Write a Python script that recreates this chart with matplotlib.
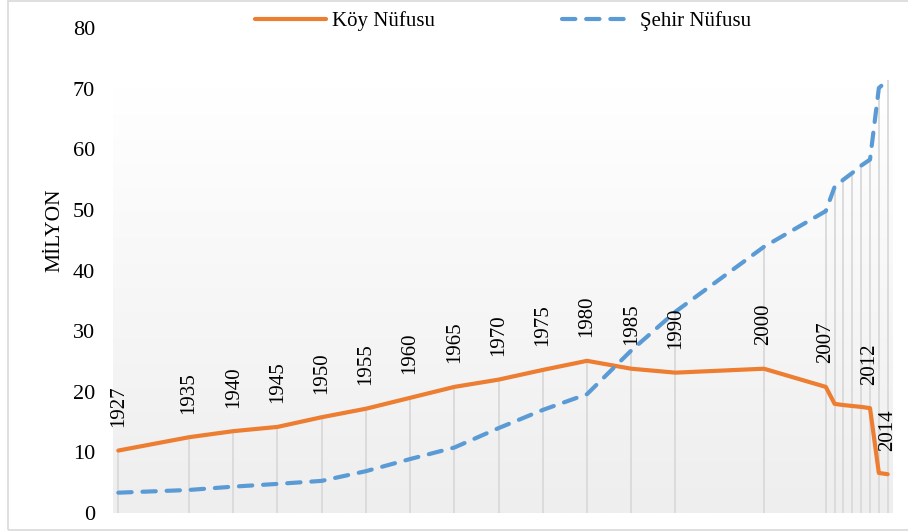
import numpy as np
import matplotlib
matplotlib.use("Agg")
import matplotlib.pyplot as plt
from matplotlib.colors import LinearSegmentedColormap
from matplotlib.lines import Line2D
from matplotlib.patches import Rectangle

plt.rcParams['font.family'] = ['Liberation Serif', 'DejaVu Serif']

# values (million people)
years = [1927, 1935, 1940, 1945, 1950, 1955, 1960, 1965, 1970, 1975, 1980,
         1985, 1990, 2000, 2007, 2008, 2009, 2010, 2011, 2012, 2013, 2014]
koy = [10.3, 12.5, 13.5, 14.2, 15.8, 17.2, 19.0, 20.8, 22.0, 23.6, 25.1,
       23.8, 23.15, 23.8, 20.8, 18.0, 17.8, 17.65, 17.5, 17.3, 6.6, 6.4]
sehir = [3.35, 3.8, 4.35, 4.8, 5.3, 6.9, 8.9, 10.8, 14.0, 17.0, 19.6,
         26.8, 33.2, 43.9, 49.8, 53.8, 55.0, 56.1, 57.3, 58.3, 70.1, 71.4]
label_years = [1927, 1935, 1940, 1945, 1950, 1955, 1960, 1965, 1970, 1975,
               1980, 1985, 1990, 2000, 2007, 2012, 2014]
yticks = [0, 10, 20, 30, 40, 50, 60, 70, 80]

orange = '#ED7D31'
blue = '#5B9BD5'
dash = (0, (3.2, 2.6))

fig = plt.figure(figsize=(9.08, 5.32), dpi=100)
ax = fig.add_axes([113 / 908, 19 / 532, 780 / 908, 485 / 532])

# light gradient behind the plot area
cmap = LinearSegmentedColormap.from_list('bg', ['#ffffff', '#eeeeee'])
grad = np.linspace(0, 1, 256).reshape(-1, 1)
ax.imshow(grad, cmap=cmap, aspect='auto', extent=(0, 1, 0, 0.875),
          transform=ax.transAxes, zorder=0, origin='upper')

# drop lines down to the axis
tops = np.maximum(koy, sehir)
ax.vlines(years, 0, tops, color='#d9d9d9', lw=1.3, zorder=1)

ax.plot(years, koy, color=orange, lw=3.0, solid_capstyle='round', zorder=3)
ax.plot(years, sehir, color=blue, lw=3.0, linestyle=dash,
        dash_capstyle='round', zorder=3)

for yr, v in zip(years, koy):
    if yr in label_years:
        ax.annotate(str(yr), (yr, v), xytext=(0, 17), textcoords='offset points',
                    rotation=90, ha='center', va='bottom', fontsize=15, zorder=4)

ax.set_xlim(1926.4, 2014.6)
ax.set_ylim(0, 80)
ax.set_yticks(yticks)
ax.set_xticks([])
ax.tick_params(axis='y', length=0, pad=13, labelsize=16)
for s in ax.spines.values():
    s.set_visible(False)

fig.text(55 / 908, 1 - 230 / 532, 'MİLYON', rotation=90, ha='center',
         va='center', fontsize=15.5)

handles = [Line2D([], [], color=orange, lw=3.0, solid_capstyle='round'),
           Line2D([], [], color=blue, lw=3.0, linestyle=dash,
                  dash_capstyle='round')]
fig.legend(handles, ['Köy Nüfusu', 'Şehir Nüfusu'], loc='center',
           bbox_to_anchor=(503 / 908, 1 - 21 / 532), ncol=2, frameon=False,
           fontsize=15, handlelength=3.4, handletextpad=0.3, columnspacing=6.1)

# thin frame around the whole chart
fig.patches.append(Rectangle((8 / 908, 2 / 532), 1.0, 1 - 3 / 532,
                             transform=fig.transFigure, fill=False,
                             edgecolor='#d9d9d9', lw=1.2))

fig.savefig('out.png', dpi=100)
